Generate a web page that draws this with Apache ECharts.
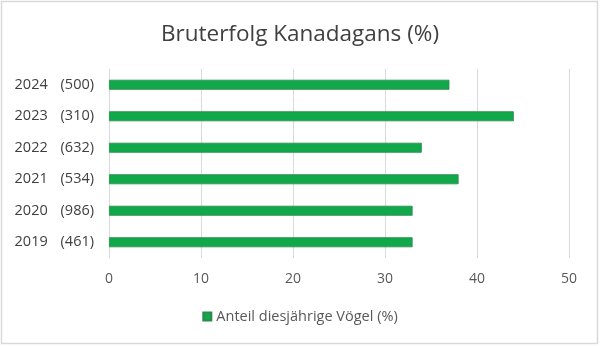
<!DOCTYPE html>
<html>
<head>
<meta charset="utf-8">
<script src="https://cdn.jsdelivr.net/npm/echarts@6/dist/echarts.min.js"></script>
<style>
  html, body { margin: 0; padding: 0; background: #fff; }
  #chart { width: 600px; height: 346px; }
</style>
</head>
<body>
<div id="chart"></div>
<script>
// Breeding success of Canada geese: share of young birds per year, with sample size
const years = ['2019', '2020', '2021', '2022', '2023', '2024'];
const sampleSizes = [461, 986, 534, 632, 310, 500];
const shareYoung = [33, 33, 38, 34, 44, 37];
const xTicks = [0, 10, 20, 30, 40, 50];

const FONT = '"Open Sans", "Noto Sans", sans-serif';
const categories = years.map((y, i) => y + '|' + sampleSizes[i]);

const chart = echarts.init(document.getElementById('chart'));
chart.setOption({
  animation: false,
  backgroundColor: '#ffffff',
  title: {
    text: 'Bruterfolg Kanadagans (%)',
    left: 'center',
    top: 18,
    textStyle: { fontFamily: FONT, fontSize: 22.5, fontWeight: 'normal', color: '#404040' }
  },
  legend: {
    bottom: 17,
    left: 'center',
    itemWidth: 8,
    itemHeight: 8,
    itemGap: 6,
    textStyle: { fontFamily: FONT, fontSize: 14.5, color: '#595959' },
    data: [{ name: 'Anteil diesjährige Vögel (%)', icon: 'rect' }]
  },
  grid: { left: 109, right: 31, top: 69, bottom: 88, containLabel: false },
  xAxis: {
    type: 'value',
    min: xTicks[0],
    max: xTicks[xTicks.length - 1],
    interval: 10,
    axisLine: { show: false },
    axisTick: { show: false },
    splitLine: { lineStyle: { color: '#d9d9d9', width: 1 } },
    axisLabel: { fontFamily: FONT, fontSize: 14, color: '#595959', margin: 14 }
  },
  yAxis: {
    type: 'category',
    data: categories,
    axisLine: { show: true, lineStyle: { color: '#d9d9d9', width: 1 } },
    axisTick: { show: false },
    axisLabel: {
      margin: 15,
      formatter: v => {
        const [y, n] = v.split('|');
        return '{y|' + y + '}{n|(' + n + ')}';
      },
      rich: {
        y: { fontFamily: FONT, fontSize: 14.5, color: '#404040', width: 46, align: 'left' },
        n: { fontFamily: FONT, fontSize: 14.5, color: '#404040' }
      }
    }
  },
  series: [{
    name: 'Anteil diesjährige Vögel (%)',
    type: 'bar',
    data: shareYoung,
    barWidth: 10,
    itemStyle: { color: '#10a84b', borderColor: '#2b8a4c', borderWidth: 0.8 }
  }],
  graphic: [{
    type: 'rect',
    shape: { x: 1.5, y: 1.5, width: 596, height: 342 },
    style: { fill: 'none', stroke: '#d9d9d9', lineWidth: 1.5 },
    silent: true
  }]
});
</script>
</body>
</html>
